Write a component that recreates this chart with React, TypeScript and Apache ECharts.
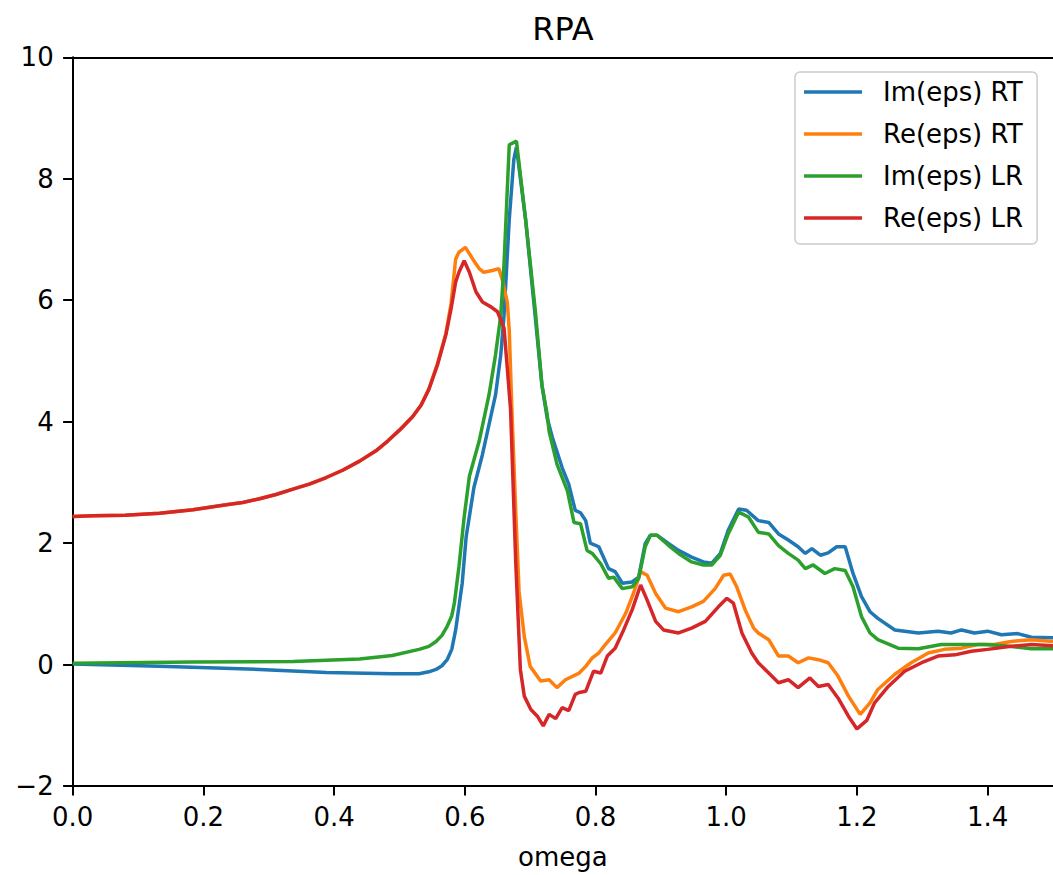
import React, { useEffect, useRef } from "react";
import * as echarts from "echarts";

const chartTitle = "RPA";
const xLabel = "omega";
const seriesNames = ["Im(eps) RT", "Re(eps) RT", "Im(eps) LR", "Re(eps) LR"];
const seriesColors = ["#1f77b4", "#ff7f0e", "#2ca02c", "#d62728"];
const xMin = 0;
const xMax = 1.5;
const xStep = 0.2;
const yMin = -2;
const yMax = 10;
const yStep = 2;

const imRT: [number, number][] = [
  [0, 0.01], [0.133, -0.03], [0.286, -0.08], [0.388, -0.13], [0.489, -0.15], [0.53, -0.15],
  [0.545, -0.12], [0.556, -0.08], [0.565, -0.02], [0.573, 0.08], [0.58, 0.25], [0.586, 0.57],
  [0.596, 1.34], [0.602, 2.1], [0.614, 2.92],
  [0.627, 3.46], [0.637, 3.95], [0.647, 4.44], [0.655, 5.1], [0.66, 5.75], [0.668, 7.33],
  [0.675, 8.32], [0.679, 8.52], [0.693, 7.33], [0.708, 5.7], [0.718, 4.6], [0.726, 4.06],
  [0.734, 3.74], [0.749, 3.24], [0.759, 2.97], [0.769, 2.54], [0.777, 2.5], [0.785, 2.37],
  [0.792, 2.0], [0.805, 1.94], [0.82, 1.58], [0.83, 1.53], [0.841, 1.34], [0.856, 1.36],
  [0.866, 1.44], [0.876, 1.99], [0.884, 2.13], [0.894, 2.13], [0.912, 1.99], [0.927, 1.88],
  [0.947, 1.77], [0.965, 1.69], [0.978, 1.67], [0.991, 1.83], [1.003, 2.21], [1.019, 2.56],
  [1.031, 2.54], [1.049, 2.37], [1.065, 2.34], [1.08, 2.15], [1.095, 2.05], [1.11, 1.94],
  [1.121, 1.83], [1.131, 1.91], [1.144, 1.8], [1.156, 1.84], [1.169, 1.94], [1.182, 1.94],
  [1.194, 1.5], [1.207, 1.12], [1.22, 0.87], [1.232, 0.76], [1.258, 0.57], [1.294, 0.52],
  [1.324, 0.55], [1.344, 0.52], [1.36, 0.57], [1.38, 0.52], [1.4, 0.55], [1.421, 0.49],
  [1.446, 0.51], [1.467, 0.45], [1.5, 0.44],
];

const reRT: [number, number][] = [
  [0, 2.44], [0.031, 2.45], [0.08, 2.46], [0.133, 2.49], [0.184, 2.55], [0.235, 2.63],
  [0.26, 2.67], [0.286, 2.73], [0.311, 2.8], [0.337, 2.89], [0.362, 2.97], [0.388, 3.08],
  [0.413, 3.2], [0.439, 3.35], [0.464, 3.52], [0.482, 3.68], [0.5, 3.86], [0.52, 4.08],
  [0.533, 4.27], [0.545, 4.54], [0.558, 4.95], [0.571, 5.45], [0.579, 5.95], [0.586, 6.68],
  [0.591, 6.79], [0.601, 6.87], [0.612, 6.68], [0.622, 6.52], [0.629, 6.46],
  [0.642, 6.49], [0.652, 6.52], [0.657, 6.35], [0.665, 5.97], [0.668, 5.5], [0.672, 4.2],
  [0.678, 2.5], [0.683, 1.2], [0.691, 0.46], [0.7, -0.03], [0.716, -0.27], [0.729, -0.25],
  [0.741, -0.38], [0.754, -0.25], [0.775, -0.14], [0.785, -0.03], [0.795, 0.11], [0.805, 0.19],
  [0.815, 0.33], [0.83, 0.52], [0.846, 0.84], [0.858, 1.17], [0.869, 1.53], [0.879, 1.47],
  [0.892, 1.17], [0.907, 0.93], [0.927, 0.87], [0.947, 0.95], [0.965, 1.04], [0.983, 1.25],
  [0.996, 1.47], [1.006, 1.49], [1.016, 1.28], [1.029, 0.9], [1.042, 0.6], [1.049, 0.52],
  [1.065, 0.41], [1.08, 0.14], [1.095, 0.14], [1.11, 0.03], [1.126, 0.11], [1.141, 0.08],
  [1.156, 0.03], [1.171, -0.19], [1.187, -0.52], [1.205, -0.82], [1.22, -0.63], [1.232, -0.41],
  [1.258, -0.16], [1.283, 0.03], [1.309, 0.19], [1.334, 0.25], [1.36, 0.27], [1.385, 0.33],
  [1.41, 0.33], [1.436, 0.38], [1.467, 0.41], [1.5, 0.38],
];

const imLR: [number, number][] = [
  [0, 0.02], [0.184, 0.04], [0.337, 0.05], [0.439, 0.09], [0.489, 0.15], [0.53, 0.25],
  [0.545, 0.3], [0.556, 0.38], [0.565, 0.48], [0.573, 0.63], [0.58, 0.8], [0.584, 1.01],
  [0.591, 1.61], [0.599, 2.43], [0.607, 3.1],
  [0.622, 3.68], [0.637, 4.44], [0.647, 5.1], [0.655, 5.75], [0.66, 6.6], [0.668, 8.56],
  [0.679, 8.62], [0.693, 7.33], [0.708, 5.81], [0.718, 4.6], [0.726, 4.12], [0.729, 3.84],
  [0.741, 3.3], [0.757, 2.86], [0.767, 2.34], [0.777, 2.32], [0.787, 1.88], [0.795, 1.83],
  [0.808, 1.66], [0.82, 1.42], [0.828, 1.44], [0.841, 1.25], [0.856, 1.28], [0.866, 1.42],
  [0.876, 1.94], [0.884, 2.13], [0.894, 2.13], [0.912, 1.96], [0.927, 1.83], [0.947, 1.69],
  [0.965, 1.64], [0.978, 1.64], [0.991, 1.8], [1.003, 2.15], [1.019, 2.51], [1.034, 2.43],
  [1.049, 2.18], [1.065, 2.15], [1.08, 1.96], [1.095, 1.83], [1.11, 1.72], [1.121, 1.58],
  [1.133, 1.64], [1.151, 1.5], [1.166, 1.58], [1.182, 1.55], [1.194, 1.28], [1.207, 0.79],
  [1.22, 0.52], [1.232, 0.41], [1.263, 0.27], [1.294, 0.26], [1.329, 0.33], [1.36, 0.33],
  [1.395, 0.33], [1.426, 0.31], [1.467, 0.26], [1.5, 0.26],
];

const reLR: [number, number][] = [
  [0, 2.44], [0.031, 2.45], [0.08, 2.46], [0.133, 2.49], [0.184, 2.55], [0.235, 2.63],
  [0.26, 2.67], [0.286, 2.73], [0.311, 2.8], [0.337, 2.89], [0.362, 2.97], [0.388, 3.08],
  [0.413, 3.2], [0.439, 3.35], [0.464, 3.52], [0.482, 3.68], [0.5, 3.86], [0.52, 4.08],
  [0.533, 4.27], [0.545, 4.53], [0.558, 4.93], [0.571, 5.43], [0.579, 5.86], [0.586, 6.3],
  [0.591, 6.46], [0.599, 6.65], [0.607, 6.46], [0.617, 6.14], [0.627, 5.97],
  [0.64, 5.89], [0.65, 5.81], [0.66, 5.54], [0.665, 4.88], [0.67, 4.2], [0.678, 1.66],
  [0.685, -0.08], [0.691, -0.52], [0.701, -0.74], [0.711, -0.85], [0.72, -1.01], [0.729, -0.82],
  [0.739, -0.89], [0.749, -0.71], [0.759, -0.76], [0.769, -0.49], [0.775, -0.46], [0.785, -0.44],
  [0.797, -0.11], [0.808, -0.14], [0.818, 0.14], [0.83, 0.27], [0.843, 0.57], [0.856, 0.9],
  [0.869, 1.31], [0.879, 1.06], [0.892, 0.71], [0.904, 0.57], [0.927, 0.52], [0.947, 0.6],
  [0.968, 0.71], [0.988, 0.95], [1.001, 1.09], [1.011, 1.01], [1.024, 0.52], [1.039, 0.19],
  [1.049, 0.03], [1.065, -0.14], [1.08, -0.3], [1.095, -0.25], [1.11, -0.38], [1.128, -0.22],
  [1.141, -0.36], [1.156, -0.33], [1.171, -0.55], [1.187, -0.85], [1.2, -1.06], [1.215, -0.92],
  [1.227, -0.63], [1.248, -0.36], [1.273, -0.11], [1.299, 0.03], [1.324, 0.14], [1.35, 0.16],
  [1.375, 0.22], [1.4, 0.25], [1.436, 0.3], [1.467, 0.33], [1.5, 0.31],
];

const seriesData = [imRT, reRT, imLR, reLR];

const FONT = "DejaVu Sans";

export default function App() {
  const ref = useRef<HTMLDivElement>(null);

  useEffect(() => {
    if (!ref.current) return;
    const chart = echarts.init(ref.current, null, { renderer: "svg" });
    const axisLineStyle = { color: "#000", width: 2 };
    chart.setOption({
      animation: false,
      backgroundColor: "#ffffff",
      textStyle: { fontFamily: FONT },
      grid: { left: 72.7, top: 57.3, right: -2, bottom: 84.3, containLabel: false },
      graphic: [
        {
          type: "text",
          x: 563,
          y: 29,
          style: {
            text: chartTitle,
            fontSize: 32,
            fontFamily: FONT,
            fill: "#000",
            align: "center",
            verticalAlign: "middle",
            textAlign: "center",
            textVerticalAlign: "middle",
          },
        },
      ],
      legend: {
        data: seriesNames,
        orient: "vertical",
        left: 795,
        top: 72,
        icon: "rect",
        itemWidth: 58,
        itemHeight: 3.5,
        itemGap: 16,
        textStyle: { fontSize: 26, color: "#000", fontFamily: FONT, padding: [0, 0, 0, 16] },
        backgroundColor: "rgba(255,255,255,0.8)",
        borderColor: "#cccccc",
        borderWidth: 1.5,
        borderRadius: 5,
        padding: [7, 14, 13, 9],
      },
      xAxis: [
        {
          type: "value",
          min: xMin,
          max: xMax,
          interval: xStep,
          name: xLabel,
          nameLocation: "middle",
          nameGap: 58,
          nameTextStyle: { fontSize: 26, color: "#000", fontFamily: FONT },
          axisLine: { show: true, onZero: false, lineStyle: axisLineStyle },
          axisTick: { show: true, length: 9.6, lineStyle: axisLineStyle },
          axisLabel: {
            show: true,
            margin: 18,
            fontSize: 26,
            color: "#000",
            fontFamily: FONT,
            showMaxLabel: false,
            formatter: (v: number) => v.toFixed(1),
          },
          splitLine: { show: false },
        },
        {
          type: "value",
          position: "top",
          min: xMin,
          max: xMax,
          axisLine: { show: true, onZero: false, lineStyle: axisLineStyle },
          axisTick: { show: false },
          axisLabel: { show: false },
          splitLine: { show: false },
        },
      ],
      yAxis: {
        type: "value",
        min: yMin,
        max: yMax,
        interval: yStep,
        axisLine: { show: true, onZero: false, lineStyle: axisLineStyle },
        axisTick: { show: true, length: 9.6, lineStyle: axisLineStyle },
        axisLabel: {
          show: true,
          margin: 19,
          fontSize: 26,
          color: "#000",
          fontFamily: FONT,
          formatter: (v: number) => (v < 0 ? "\u2212" + Math.abs(v) : String(v)),
        },
        splitLine: { show: false },
      },
      series: seriesNames.map((name, i) => ({
        name,
        type: "line",
        xAxisIndex: 0,
        data: seriesData[i],
        showSymbol: false,
        symbol: "none",
        smooth: false,
        color: seriesColors[i],
        lineStyle: { color: seriesColors[i], width: 3.5 },
        z: 2 + i,
      })),
    });
    return () => chart.dispose();
  }, []);

  return (
    <div
      ref={ref}
      style={{ position: "absolute", left: 0, top: 0, width: 1053, height: 875 }}
    />
  );
}
